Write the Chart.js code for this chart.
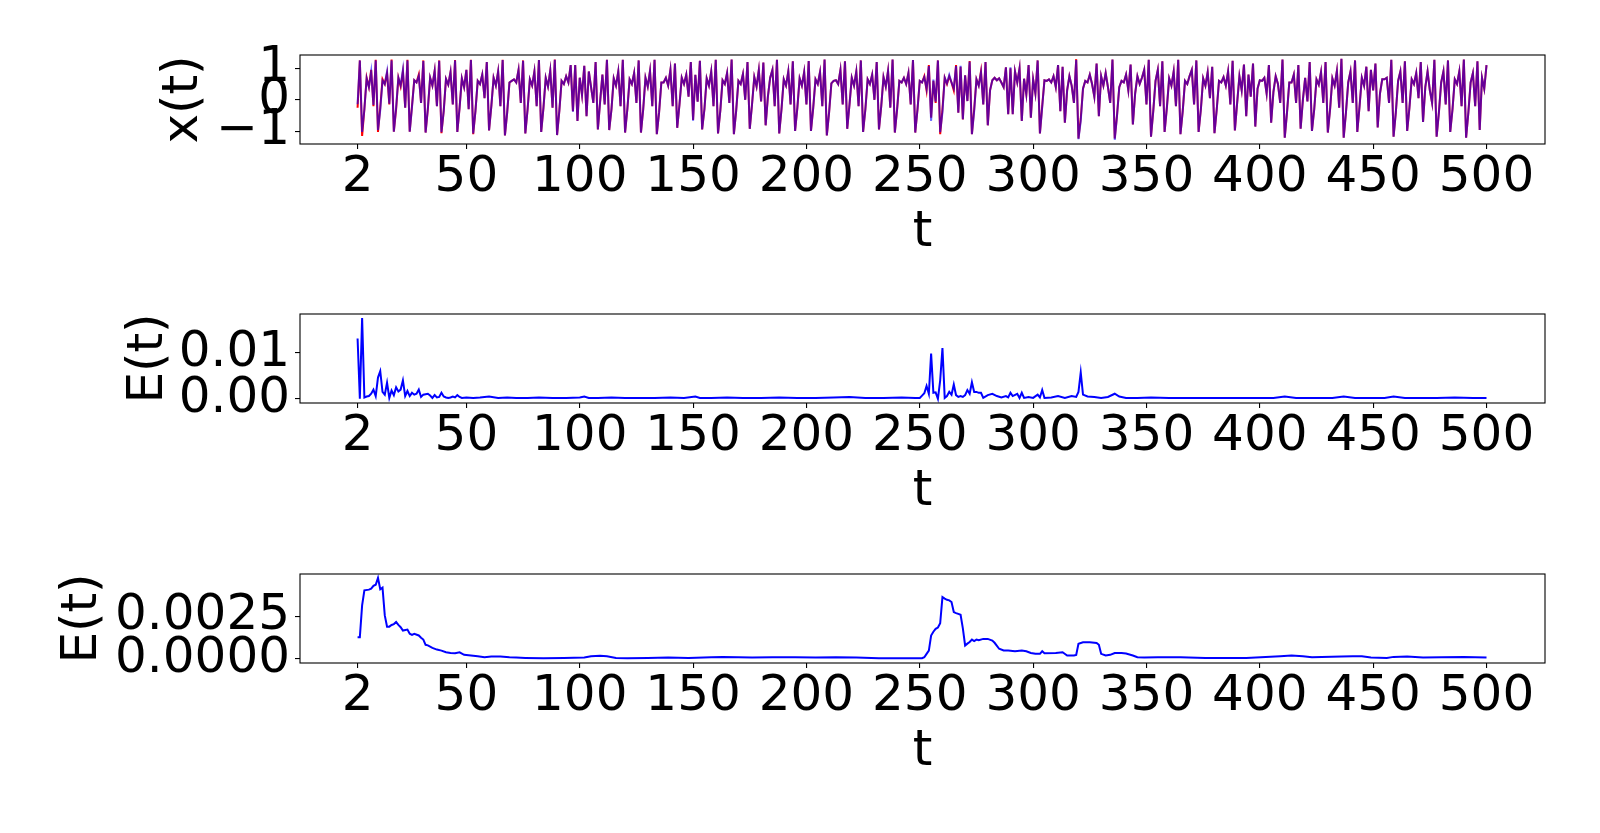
<!DOCTYPE html>
<html><head><meta charset="utf-8">
<script src="https://cdn.jsdelivr.net/npm/chart.js@4.4.1/dist/chart.umd.min.js"></script>
<style>
html,body{margin:0;padding:0;background:#fff;}
body{width:1600px;height:833px;position:relative;overflow:hidden;}
canvas{position:absolute;left:0;}
</style></head><body>
<canvas id="c1" width="1600" height="270" style="top:0px"></canvas>
<canvas id="c2" width="1600" height="270" style="top:259px"></canvas>
<canvas id="c3" width="1600" height="270" style="top:519px"></canvas>
<script>
// time steps start at t = 2, one sample per step
const T_START = 2;

// true series x(t) (red)
const xTrue = [
-0.25,1.25,-1.15,-0.3,0.7,0.4,0.95,-0.2,1.27,-1.02,
-0.25,0.65,0.5,0.85,-0.15,1.28,-1.01,-0.3,0.7,0.42,
0.9,-0.25,1.27,-1.01,-0.2,0.62,0.55,0.8,-0.1,1.25,
-1.04,-0.3,0.7,0.45,0.92,-0.2,1.25,-1.06,-0.35,0.66,
0.48,0.88,-0.15,1.26,-1.02,-0.25,0.68,0.4,0.95,-0.3,
1.27,-1.09,-0.35,0.6,0.5,0.8,0.05,1.2,-0.97,-0.2,
0.7,0.45,0.9,-0.2,1.27,-1.13,-0.4,0.55,0.6,0.65,
0.55,0.95,-0.1,1.25,-1.07,-0.3,0.65,0.45,0.9,-0.2,
1.26,-1.02,-0.25,0.7,0.42,0.93,-0.25,1.28,-1.12,-0.35,
0.6,0.5,0.75,0.55,1.1,-0.36,1.1,-0.67,0.7,0.15,
1.08,-0.52,0.9,0.4,-0.1,1.2,-0.94,-0.05,0.8,-0.15,
1.27,-0.96,-0.3,0.68,0.45,0.9,-0.2,1.27,-1.04,-0.3,
0.65,0.5,0.85,-0.1,1.25,-1.04,-0.3,0.7,0.42,0.92,
-0.2,1.27,-1.09,-0.4,0.55,0.55,0.7,0.45,0.95,-0.2,
1.15,-0.89,-0.15,0.7,0.5,0.8,0.1,1.2,-0.64,0.79,
-0.06,1.24,-0.94,-0.3,0.68,0.45,0.9,-0.2,1.27,-1.07,
-0.35,0.62,0.5,0.85,-0.1,1.28,-1.09,-0.35,0.6,0.5,
0.82,0.0,1.2,-0.92,-0.15,0.72,0.42,0.95,-0.05,1.18,
-0.81,0.1,0.7,0.95,-0.2,1.27,-1.07,-0.3,0.65,0.45,
0.9,-0.15,1.22,-0.99,-0.25,0.68,0.45,0.88,-0.15,1.23,
-0.99,-0.25,0.65,0.5,0.88,-0.2,1.28,-1.13,-0.4,0.52,
0.6,0.62,0.5,0.95,-0.15,1.22,-0.92,-0.15,0.7,0.45,
0.9,-0.2,1.25,-1.02,-0.3,0.65,0.5,0.8,0.0,1.2,
-0.94,-0.2,0.72,0.42,0.92,-0.25,1.28,-1.04,-0.3,0.6,
0.55,0.7,0.5,0.85,-0.15,1.26,-1.04,-0.3,0.6,0.55,
0.75,0.3,1.1,-0.57,0.6,-0.1,1.25,-1.09,-0.3,0.7,
0.5,0.75,0.55,0.3,1.1,-0.41,1.05,-0.62,0.78,-0.04,
1.23,-1.09,-0.3,0.65,0.45,0.9,-0.15,1.2,-0.81,0.3,
0.62,0.7,0.62,0.68,0.55,0.4,1.03,-0.46,1.0,-0.46,
0.9,0.55,1.0,-0.67,0.67,0.17,1.1,-0.57,0.65,0.2,
1.25,-1.07,-0.2,0.62,0.6,0.65,0.55,0.75,0.4,1.1,
-0.36,1.05,-0.73,0.3,0.75,0.45,-0.1,1.29,-1.23,-0.6,
0.35,0.6,0.55,0.8,0.5,0.1,1.15,-0.52,0.75,0.45,
0.85,0.4,-0.1,1.28,-1.23,-0.5,0.4,0.6,0.55,0.8,
0.3,1.12,-0.78,0.2,0.75,0.5,0.7,0.95,-0.15,1.27,
-1.17,-0.35,0.6,0.95,-0.2,1.22,-1.02,-0.25,0.68,0.45,
0.9,-0.2,1.27,-1.09,-0.35,0.6,0.5,0.75,0.95,-0.15,
1.25,-1.02,-0.3,0.68,0.45,0.88,0.05,1.05,-1.06,-0.3,
0.6,0.55,0.72,0.45,0.9,-0.15,1.24,-0.97,-0.1,0.75,
0.3,1.12,-0.52,0.8,0.1,1.15,-0.85,0.35,0.62,0.6,
0.7,0.2,1.1,-0.73,0.25,0.75,0.5,-0.1,1.28,-1.2,
-0.4,0.55,0.55,0.8,-0.1,1.1,-0.92,0.0,0.7,-0.05,
1.2,-0.99,-0.3,0.65,0.48,0.88,-0.1,1.2,-1.04,-0.3,
0.68,0.45,0.92,-0.25,1.3,-1.2,-0.4,0.55,0.9,-0.1,
1.25,-1.02,-0.2,0.7,0.45,1.05,-0.36,0.95,0.3,1.15,
-0.88,0.2,0.65,0.65,0.7,-0.1,1.27,-1.17,-0.4,0.6,
0.9,-0.1,1.22,-0.99,-0.25,0.65,0.5,0.85,0.05,1.2,
-0.7,0.4,0.9,0.3,-0.1,1.27,-1.17,-0.4,0.55,0.9,
-0.15,1.25,-1.02,-0.3,0.65,0.5,0.9,-0.2,1.28,-1.2,
-0.4,0.55,0.85,-0.2,1.22,-0.96,0.7,0.35,1.1
];

// predicted series x(t) (blue)
const xPred = [
-0.14,1.25,-1.02,-0.3,0.68,0.4,0.9,-0.16,1.25,-0.96,
-0.33,0.61,0.5,0.9,-0.12,1.25,-1.01,-0.25,0.7,0.46,
0.96,-0.25,1.25,-1.01,-0.23,0.62,0.55,0.76,-0.1,1.23,
-1.04,-0.27,0.7,0.45,0.92,-0.2,1.24,-1.03,-0.35,0.66,
0.48,0.88,-0.15,1.25,-1.02,-0.25,0.68,0.4,0.95,-0.3,
1.26,-1.07,-0.35,0.6,0.5,0.8,0.05,1.2,-0.97,-0.2,
0.7,0.45,0.9,-0.2,1.26,-1.13,-0.4,0.55,0.6,0.65,
0.55,0.95,-0.1,1.24,-1.07,-0.3,0.65,0.45,0.9,-0.2,
1.26,-1.02,-0.25,0.7,0.42,0.93,-0.25,1.27,-1.12,-0.35,
0.6,0.5,0.75,0.55,1.1,-0.38,1.1,-0.67,0.7,0.15,
1.08,-0.52,0.9,0.4,-0.1,1.2,-0.94,-0.05,0.8,-0.15,
1.27,-0.96,-0.3,0.68,0.45,0.9,-0.2,1.27,-1.04,-0.3,
0.65,0.5,0.85,-0.1,1.25,-1.04,-0.3,0.7,0.42,0.92,
-0.2,1.27,-1.09,-0.4,0.55,0.55,0.7,0.45,0.95,-0.2,
1.15,-0.89,-0.15,0.7,0.5,0.8,0.1,1.2,-0.66,0.79,
-0.06,1.24,-0.94,-0.3,0.68,0.45,0.9,-0.2,1.27,-1.07,
-0.35,0.62,0.5,0.85,-0.1,1.28,-1.09,-0.35,0.6,0.5,
0.82,0.0,1.2,-0.92,-0.15,0.72,0.42,0.95,-0.05,1.18,
-0.81,0.1,0.7,0.95,-0.2,1.27,-1.07,-0.3,0.65,0.45,
0.9,-0.15,1.22,-0.99,-0.25,0.68,0.45,0.88,-0.15,1.23,
-0.99,-0.25,0.65,0.5,0.88,-0.2,1.28,-1.13,-0.4,0.52,
0.6,0.62,0.5,0.95,-0.15,1.22,-0.92,-0.15,0.7,0.45,
0.9,-0.2,1.25,-1.02,-0.3,0.65,0.5,0.8,0.0,1.2,
-0.94,-0.2,0.72,0.42,0.92,-0.25,1.28,-1.04,-0.3,0.6,
0.55,0.7,0.5,0.85,-0.15,1.26,-1.04,-0.3,0.6,0.55,
0.72,0.35,1.07,-0.67,0.64,-0.06,1.25,-1.03,-0.4,0.7,
0.52,0.79,0.55,0.36,1.07,-0.41,1.08,-0.62,0.78,-0.04,
1.21,-1.09,-0.36,0.65,0.45,0.87,-0.15,1.2,-0.81,0.3,
0.62,0.7,0.62,0.68,0.55,0.4,1.03,-0.46,1.03,-0.46,
0.9,0.55,1.0,-0.67,0.67,0.17,1.1,-0.57,0.65,0.2,
1.25,-1.07,-0.24,0.62,0.6,0.65,0.55,0.75,0.4,1.1,
-0.36,1.05,-0.73,0.3,0.75,0.45,-0.1,1.26,-1.25,-0.675,
0.35,0.6,0.55,0.8,0.5,0.1,1.15,-0.52,0.75,0.45,
0.85,0.4,-0.1,1.28,-1.27,-0.52,0.4,0.6,0.55,0.8,
0.3,1.12,-0.78,0.2,0.75,0.5,0.7,0.95,-0.15,1.27,
-1.17,-0.35,0.6,0.95,-0.2,1.22,-1.02,-0.25,0.68,0.45,
0.9,-0.2,1.27,-1.09,-0.35,0.6,0.5,0.75,0.95,-0.15,
1.25,-1.02,-0.3,0.68,0.45,0.88,0.05,1.05,-1.06,-0.3,
0.6,0.55,0.72,0.45,0.9,-0.15,1.24,-0.97,-0.1,0.75,
0.3,1.12,-0.52,0.8,0.1,1.15,-0.85,0.35,0.62,0.6,
0.7,0.2,1.1,-0.73,0.25,0.75,0.5,-0.1,1.28,-1.2,
-0.4,0.55,0.55,0.8,-0.1,1.1,-0.92,0.0,0.7,-0.05,
1.2,-0.99,-0.3,0.65,0.48,0.88,-0.1,1.2,-1.04,-0.3,
0.68,0.45,0.92,-0.25,1.3,-1.2,-0.4,0.55,0.9,-0.1,
1.25,-1.02,-0.2,0.7,0.45,1.05,-0.36,0.95,0.3,1.15,
-0.88,0.2,0.65,0.65,0.7,-0.1,1.27,-1.17,-0.4,0.6,
0.9,-0.1,1.22,-0.99,-0.25,0.65,0.5,0.85,0.05,1.2,
-0.7,0.4,0.9,0.3,-0.1,1.27,-1.17,-0.4,0.55,0.9,
-0.15,1.25,-1.02,-0.3,0.65,0.5,0.9,-0.2,1.28,-1.2,
-0.4,0.55,0.85,-0.2,1.22,-0.96,0.7,0.35,1.1
];

// instantaneous error E(t)
const errT = [
2,3,4,5,6,7,8,9,10,11,
12,13,14,15,16,17,18,19,20,21,
22,23,24,25,26,27,28,29,30,31,
32,33,34,35,36,37,38,39,40,41,
42,43,44,45,46,47,48,50,53,56,
60,64,68,72,77,82,88,94,100,102,
104,108,114,120,126,133,140,146,151,153,
158,165,172,180,188,196,204,212,219,226,
234,242,248,250,251,252,253,254,255,256,
257,258,259,260,261,262,263,264,265,266,
267,268,269,270,271,272,273,274,275,276,
277,278,280,282,284,286,288,289,290,291,
293,294,295,296,298,300,302,303,304,305,
308,311,314,317,319,320,321,322,324,327,
330,333,336,338,341,346,352,360,368,376,
384,392,400,406,411,416,424,432,437,442,
450,455,459,464,470,478,486,494,500
];
const errV = [
0.0131,0.0,0.0175,0.0003,0.0005,0.0006,0.0011,0.002,0.0006,0.0046,
0.006,0.0015,0.0009,0.0035,0.0002,0.0018,0.0008,0.0025,0.0016,0.002,
0.004,0.0006,0.0017,0.0006,0.0013,0.0009,0.0011,0.002,0.0004,0.0009,
0.001,0.0011,0.0007,0.0002,0.0008,0.0003,0.0004,0.0013,0.0005,0.0003,
0.0002,0.0003,0.0005,0.0003,0.0008,0.0004,0.0002,0.0003,0.0002,0.0003,
0.0005,0.0002,0.0003,0.0002,0.0002,0.0003,0.0002,0.0002,0.0003,0.0005,
0.0002,0.0002,0.0003,0.0002,0.0002,0.0002,0.0003,0.0002,0.0005,0.0002,
0.0002,0.0003,0.0002,0.0002,0.0003,0.0002,0.0002,0.0003,0.0004,0.0002,
0.0002,0.0003,0.0002,0.0002,0.0007,0.0012,0.0028,0.0011,0.0098,0.0013,
0.0014,0.0,0.004,0.011,0.0002,0.0006,0.0015,0.0009,0.0031,0.0008,
0.0004,0.0006,0.0004,0.0008,0.0019,0.0011,0.0036,0.0015,0.0015,0.0013,
0.0013,0.0002,0.0008,0.0011,0.0006,0.0003,0.0006,0.0003,0.0013,0.0006,
0.0011,0.0002,0.0013,0.0002,0.0004,0.0002,0.0009,0.0003,0.0019,0.0002,
0.0003,0.0006,0.0002,0.0006,0.0004,0.0015,0.0057,0.0009,0.0005,0.0004,
0.0002,0.0004,0.0011,0.0005,0.0002,0.0002,0.0003,0.0002,0.0002,0.0002,
0.0002,0.0002,0.0002,0.0002,0.0005,0.0002,0.0002,0.0002,0.0005,0.0002,
0.0002,0.0002,0.0005,0.0002,0.0002,0.0002,0.0003,0.0002,0.0002
];

// smoothed error E(t)
const avgErrT = [
2,3,4,5,7,8,9,10,11,12,
13,14,15,16,17,18,19,20,21,22,
24,25,26,27,29,30,31,32,33,35,
37,39,41,43,45,47,49,52,55,58,
61,65,69,72,76,84,93,102,105,109,
112,116,121,130,139,148,158,163,170,176,
185,195,204,213,222,232,241,251,252,253,
254,255,256,257,258,259,260,261,262,263,
264,265,266,267,268,269,270,271,272,273,
274,275,276,278,280,282,283,285,287,289,
292,295,297,299,301,303,304,305,310,313,
315,318,319,320,322,325,328,329,330,332,
334,336,339,341,344,346,349,355,365,376,
394,409,414,419,423,436,441,445,449,456,
459,465,472,480,490,500
];
const avgErrV = [
0.00128,0.00128,0.00315,0.00404,0.00408,0.00414,0.0043,0.00437,0.00477,0.0041,
0.0042,0.00256,0.0019,0.0019,0.002,0.00205,0.00217,0.002,0.00187,0.00167,
0.00173,0.00148,0.00142,0.00148,0.00138,0.00125,0.00114,0.00083,0.0008,0.00065,
0.00055,0.00049,0.00039,0.00035,0.00033,0.00039,0.00024,0.0002,0.00016,0.0001,
0.00014,0.00014,0.0001,0.00008,0.00006,0.00004,0.00006,0.00008,0.00016,0.00018,
0.00016,0.00006,0.00004,0.00006,0.00008,0.00006,0.0001,0.00012,0.0001,0.00008,
0.0001,0.0001,0.00008,0.0001,0.00008,0.00004,0.00004,0.00004,0.0001,0.0003,
0.00049,0.00138,0.0016,0.00177,0.00185,0.0021,0.00364,0.00355,0.00348,0.00345,
0.00335,0.00276,0.0027,0.00265,0.0026,0.0018,0.00079,0.0009,0.001,0.00114,
0.00105,0.00114,0.0011,0.00118,0.00118,0.00108,0.00095,0.0006,0.0005,0.00049,
0.00045,0.00049,0.00045,0.00035,0.0003,0.0003,0.00045,0.00033,0.00035,0.00039,
0.0002,0.0002,0.00024,0.00089,0.00098,0.00098,0.00094,0.00083,0.0003,0.0002,
0.00024,0.00035,0.00035,0.00032,0.0002,0.0001,0.00008,0.0001,0.0001,0.00006,
0.00006,0.00016,0.0002,0.00016,0.0001,0.00014,0.00016,0.00016,0.00008,0.00006,
0.00012,0.00014,0.00008,0.0001,0.00012,0.00008
];

// axis ticks
const xTickValues = [2,50,100,150,200,250,300,350,400,450,500];
const y1TickValues = [-1,0,1];
const y1TickLabels = ['\u22121','0','1'];
const y2TickValues = [0,0.01];
const y2TickLabels = ['0.00','0.01'];
const y3TickValues = [0,0.0025];
const y3TickLabels = ['0.0000','0.0025'];

Chart.defaults.font.family = "'DejaVu Sans'";
Chart.defaults.color = '#000';

const toPts = (ts, vs) => vs.map((v, i) => ({x: ts[i], y: v}));
const steps = xTrue.map((_, i) => T_START + i);

const boxPlugin = {
  id: 'box',
  afterDraw(chart) {
    const {ctx, chartArea: a} = chart;
    ctx.save();
    ctx.strokeStyle = '#000';
    ctx.lineWidth = 1.1;
    ctx.strokeRect(a.left, a.top, a.right - a.left, a.bottom - a.top);
    ctx.restore();
  }
};

function makeChart(id, datasets, yMin, yMax, yVals, yLabels, yTitle, yTitlePad) {
  return new Chart(document.getElementById(id), {
    type: 'line',
    data: {datasets},
    options: {
      responsive: false, animation: false, devicePixelRatio: 1, events: [],
      layout: {padding: {left: 0, right: 55, top: 55, bottom: 0}},
      plugins: {legend: {display: false}, tooltip: {enabled: false}},
      elements: {point: {radius: 0}, line: {tension: 0, borderWidth: 2}},
      scales: {
        x: {
          type: 'linear', position: 'bottom', min: -23.4, max: 525.8,
          afterBuildTicks: s => { s.ticks = xTickValues.map(v => ({value: v})); },
          afterFit: s => { s.height = 126; },
          grid: {display: true, drawOnChartArea: false, drawTicks: true, tickLength: 5, color: '#000', lineWidth: 1.1},
          border: {display: false},
          ticks: {autoSkip: false, maxRotation: 0, minRotation: 0, padding: 0, color: '#000',
                  font: {size: 50, lineHeight: 1.15}, callback: v => String(v)},
          title: {display: true, text: 't', color: '#000', font: {size: 50, lineHeight: 1.2},
                  padding: {top: 0, bottom: 7}}
        },
        y: {
          type: 'linear', position: 'left', min: yMin, max: yMax,
          afterBuildTicks: s => { s.ticks = yVals.map(v => ({value: v})); },
          afterFit: s => { s.width = 300; },
          grid: {display: true, drawOnChartArea: false, drawTicks: true, tickLength: 5, color: '#000', lineWidth: 1.1},
          border: {display: false},
          ticks: {autoSkip: false, padding: 5, color: '#000', font: {size: 50, lineHeight: 1.15},
                  callback: (v, i) => yLabels[i]},
          title: {display: true, text: yTitle, color: '#000', font: {size: 50, lineHeight: 1.2},
                  padding: {top: yTitlePad, bottom: 0}}
        }
      }
    },
    plugins: [boxPlugin]
  });
}

makeChart('c1', [
  {data: toPts(steps, xPred), borderColor: 'rgba(0,0,255,0.6)', borderWidth: 2, pointRadius: 0, order: 0},
  {data: toPts(steps, xTrue), borderColor: '#ff0000', borderWidth: 2, pointRadius: 0, order: 1}
], -1.403, 1.422, y1TickValues, y1TickLabels, 'x(t)', 154);

makeChart('c2', [
  {data: toPts(errT, errV), borderColor: '#0000ff', borderWidth: 2, pointRadius: 0}
], -0.00091, 0.0184, y2TickValues, y2TickLabels, 'E(t)', 119);

makeChart('c3', [
  {data: toPts(avgErrT, avgErrV), borderColor: '#0000ff', borderWidth: 2, pointRadius: 0}
], -0.00024, 0.005, y3TickValues, y3TickLabels, 'E(t)', 53);
</script>
</body></html>
